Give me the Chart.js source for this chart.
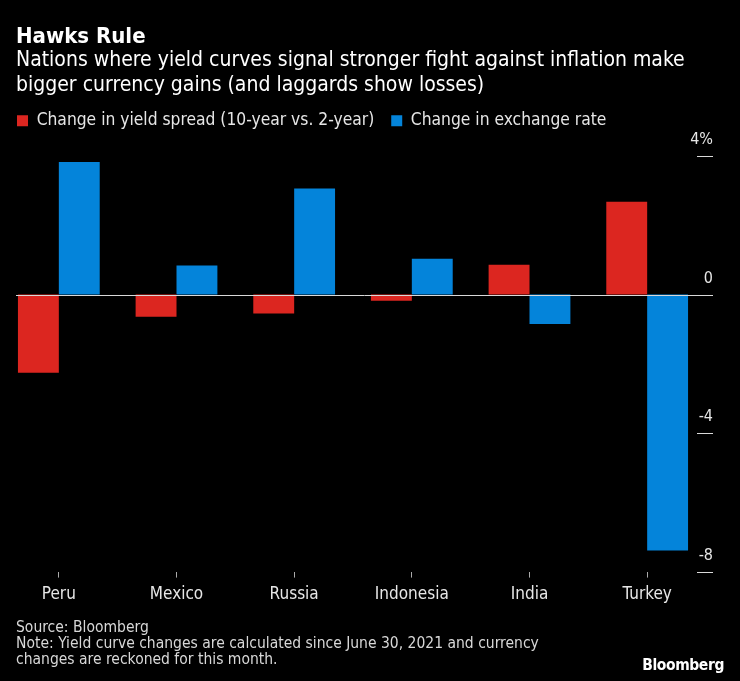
<!DOCTYPE html>
<html>
<head>
<meta charset="utf-8">
<script src="https://cdn.jsdelivr.net/npm/chart.js@4/dist/chart.umd.min.js"></script>
<style>
  html, body { margin: 0; padding: 0; background: #000; }
  body { width: 740px; height: 681px; position: relative; overflow: hidden; font-family: "DejaVu Sans Condensed", "DejaVu Sans", sans-serif; color: #fff; }
  #wrap { position: absolute; left: 0; top: 0; width: 740px; height: 681px; }
  .t { position: absolute; left: 16px; white-space: nowrap; }
  #title { top: 23px; font-size: 22px; line-height: 25px; font-weight: bold; }
  #sub { top: 47px; font-size: 21px; line-height: 25px; }
  #foot { top: 619px; font-size: 15.5px; line-height: 16px; color: #d8d8d8; }
  #logo { position: absolute; right: 16px; top: 656px; font-size: 15.5px; font-weight: bold; color: #fff; letter-spacing: -0.4px; }
</style>
</head>
<body>
<div id="wrap"><canvas id="c" width="740" height="681"></canvas></div>
<div class="t" id="title">Hawks Rule</div>
<div class="t" id="sub">Nations where yield curves signal stronger fight against inflation make<br>bigger currency gains (and laggards show losses)</div>
<div class="t" id="foot">Source: Bloomberg<br>Note: Yield curve changes are calculated since June 30, 2021 and currency<br>changes are reckoned for this month.</div>
<div id="logo">Bloomberg</div>
<script>
const countries = ["Peru", "Mexico", "Russia", "Indonesia", "India", "Turkey"];
const yieldSpreadChange = [-2.26, -0.64, -0.55, -0.18, 0.86, 2.68];
const exchangeRateChange = [3.83, 0.84, 3.06, 1.03, -0.85, -7.39];
const yTicks = [-8, -4, 0, 4];
const seriesNames = ["Change in yield spread (10-year vs. 2-year)", "Change in exchange rate"];

const FONT = '"DejaVu Sans Condensed", "DejaVu Sans", sans-serif';

const axisDecor = {
  id: 'axisDecor',
  afterDatasetsDraw(chart) {
    const ctx = chart.ctx;
    const y = chart.scales.y;
    ctx.save();
    ctx.strokeStyle = '#d9d9d9';
    ctx.lineWidth = 1;
    const y0 = Math.round(y.getPixelForValue(0)) + 0.5;
    ctx.beginPath();
    ctx.moveTo(16, y0);
    ctx.lineTo(713, y0);
    ctx.stroke();
    yTicks.forEach(v => {
      const py = Math.round(y.getPixelForValue(v)) + 0.5;
      ctx.beginPath();
      ctx.moveTo(697, py);
      ctx.lineTo(713, py);
      ctx.stroke();
    });
    ctx.restore();
  }
};

const chart = new Chart(document.getElementById('c'), {
  type: 'bar',
  data: {
    labels: countries,
    datasets: [
      { label: seriesNames[0], data: yieldSpreadChange, backgroundColor: '#dc2620', borderWidth: 0 },
      { label: seriesNames[1], data: exchangeRateChange, backgroundColor: '#0484da', borderWidth: 0 }
    ]
  },
  options: {
    responsive: false,
    animation: false,
    devicePixelRatio: 1,
    layout: { padding: { left: 0, right: 0, top: 95, bottom: 69 } },
    datasets: { bar: { categoryPercentage: 0.695, barPercentage: 1.0 } },
    plugins: {
      legend: {
        display: true,
        position: 'top',
        align: 'start',
        labels: {
          boxWidth: 11, boxHeight: 11, padding: 17,
          color: '#e6e6e6',
          font: { family: FONT, size: 17.3 }
        }
      },
      subtitle: {
        display: true,
        text: '',
        position: 'top',
        weight: 500,
        font: { size: 1, lineHeight: 1 },
        padding: { top: 0, bottom: 15.7 }
      },
      tooltip: { enabled: false }
    },
    scales: {
      x: {
        type: 'category',
        offset: true,
        grid: { display: true, offset: false, drawOnChartArea: false, drawTicks: true, tickLength: 6, tickColor: '#aaaaaa' },
        border: { display: false },
        ticks: { color: '#e6e6e6', padding: 7, font: { family: FONT, size: 17 }, maxRotation: 0 }
      },
      y: {
        position: 'right',
        min: -8, max: 4,
        afterFit(scale) { scale.width = 34; },
        afterBuildTicks(scale) { scale.ticks = yTicks.map(v => ({ value: v })); },
        grid: { display: false },
        border: { display: false },
        ticks: {
          mirror: true, padding: 7, labelOffset: -16,
          color: '#e6e6e6', font: { family: FONT, size: 16 },
          callback: v => (v === 4 ? '4%' : String(v))
        }
      }
    }
  },
  plugins: [axisDecor]
});
</script>
</body>
</html>
